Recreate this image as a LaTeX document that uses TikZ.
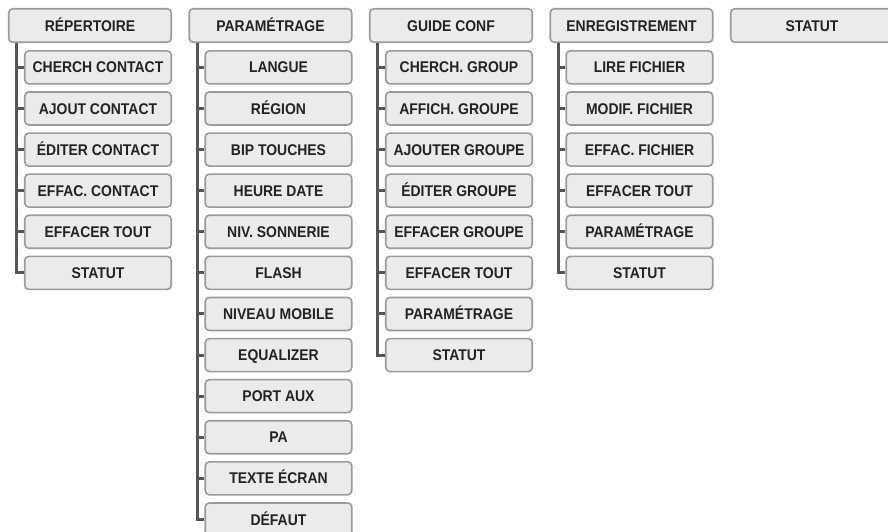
\documentclass[tikz,border=0pt]{standalone}
\usepackage{xcolor}
\usepackage{fontspec}
\setmainfont{Liberation Sans}[FakeStretch=0.9]
\usepackage{tikz}
\usetikzlibrary{positioning}

\definecolor{boxfill}{HTML}{EBEBEB}
\definecolor{boxedge}{HTML}{9A9A9A}
\definecolor{treeline}{HTML}{555555}
\definecolor{menutext}{HTML}{222222}

\tikzset{
    menubox/.style={draw=boxedge, fill=boxfill, line width=1.6pt, rounded corners=4pt,
        text=menutext, font=\fontsize{15.5}{17}\selectfont\bfseries, inner sep=0pt,
        text height=11.2pt, text depth=0pt},
    topbox/.style={menubox, minimum width=162.5pt, minimum height=33.5pt},
    subbox/.style={menubox, minimum width=146.5pt, minimum height=33pt},
    branch/.style={treeline, line width=3pt, line join=miter},
}

\begin{document}
\begin{tikzpicture}[x=1pt, y=-1pt, node distance=6.5pt]
    \useasboundingbox (0,0) rectangle (888,531);

    % menus du haut
    \node[topbox] (rep) at (90,25.5) {RÉPERTOIRE};
    \node[topbox] (param) at (270.5,25.5) {PARAMÉTRAGE};
    \node[topbox] (guide) at (451,25.5) {GUIDE CONF};
    \node[topbox] (enreg) at (631.5,25.5) {ENREGISTREMENT};
    \node[topbox] (statut) at (812,25.5) {STATUT};

    % répertoire
    \node[subbox, below right=7pt and 16pt of rep.south west] (rep1) {CHERCH CONTACT};
    \node[subbox, below=of rep1] (rep2) {AJOUT CONTACT};
    \node[subbox, below=of rep2] (rep3) {ÉDITER CONTACT};
    \node[subbox, below=of rep3] (rep4) {EFFAC. CONTACT};
    \node[subbox, below=of rep4] (rep5) {EFFACER TOUT};
    \node[subbox, below=of rep5] (rep6) {STATUT};

    % paramétrage
    \node[subbox, below right=7pt and 16pt of param.south west] (param1) {LANGUE};
    \node[subbox, below=of param1] (param2) {RÉGION};
    \node[subbox, below=of param2] (param3) {BIP TOUCHES};
    \node[subbox, below=of param3] (param4) {HEURE DATE};
    \node[subbox, below=of param4] (param5) {NIV. SONNERIE};
    \node[subbox, below=of param5] (param6) {FLASH};
    \node[subbox, below=of param6] (param7) {NIVEAU MOBILE};
    \node[subbox, below=of param7] (param8) {EQUALIZER};
    \node[subbox, below=of param8] (param9) {PORT AUX};
    \node[subbox, below=of param9] (param10) {PA};
    \node[subbox, below=of param10] (param11) {TEXTE ÉCRAN};
    \node[subbox, below=of param11] (param12) {DÉFAUT};

    % guide conf
    \node[subbox, below right=7pt and 16pt of guide.south west] (guide1) {CHERCH. GROUP};
    \node[subbox, below=of guide1] (guide2) {AFFICH. GROUPE};
    \node[subbox, below=of guide2] (guide3) {AJOUTER GROUPE};
    \node[subbox, below=of guide3] (guide4) {ÉDITER GROUPE};
    \node[subbox, below=of guide4] (guide5) {EFFACER GROUPE};
    \node[subbox, below=of guide5] (guide6) {EFFACER TOUT};
    \node[subbox, below=of guide6] (guide7) {PARAMÉTRAGE};
    \node[subbox, below=of guide7] (guide8) {STATUT};

    % enregistrement
    \node[subbox, below right=7pt and 16pt of enreg.south west] (enreg1) {LIRE FICHIER};
    \node[subbox, below=of enreg1] (enreg2) {MODIF. FICHIER};
    \node[subbox, below=of enreg2] (enreg3) {EFFAC. FICHIER};
    \node[subbox, below=of enreg3] (enreg4) {EFFACER TOUT};
    \node[subbox, below=of enreg4] (enreg5) {PARAMÉTRAGE};
    \node[subbox, below=of enreg5] (enreg6) {STATUT};

    % branches
    \foreach \k in {1,...,6}
        \draw[branch] ([xshift=9pt]rep.south west) |- (rep\k.west);
    \foreach \k in {1,...,12}
        \draw[branch] ([xshift=9pt]param.south west) |- (param\k.west);
    \foreach \k in {1,...,8}
        \draw[branch] ([xshift=9pt]guide.south west) |- (guide\k.west);
    \foreach \k in {1,...,6}
        \draw[branch] ([xshift=9pt]enreg.south west) |- (enreg\k.west);
\end{tikzpicture}
\end{document}
